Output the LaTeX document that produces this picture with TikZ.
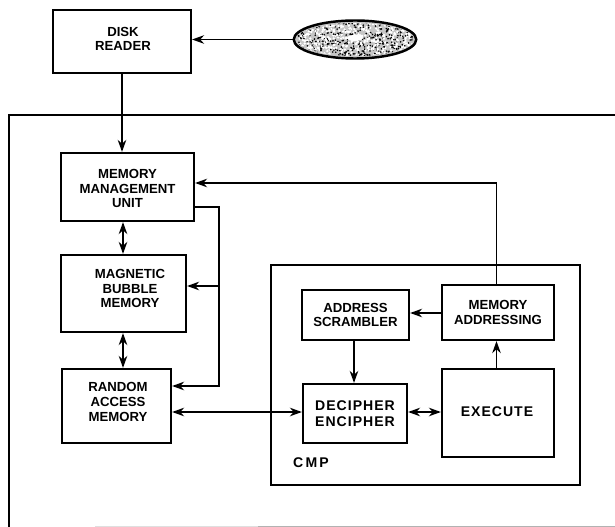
\documentclass[tikz,border=0pt]{standalone}
\usepackage{fontspec}
\setmainfont{Liberation Sans}
\newfontfamily\widefont[LetterSpace=7]{Liberation Sans}
\newfontfamily\cmpfont[LetterSpace=16]{Liberation Sans}
\usetikzlibrary{arrows.meta, shapes.geometric}
\begin{document}
\begin{tikzpicture}
[x=0.02cm, y=-0.02cm, font=\fontsize{7.5}{8.3}\selectfont\bfseries, line width=1.05pt, >={Stealth[length=2.4mm,width=1.7mm]}]
\tikzstyle{block}=[rectangle, draw, line width=1.25pt, fill=white, align=center, inner sep=0mm]
\tikzstyle{wide}=[font=\widefont\fontsize{8}{9.4}\selectfont\bfseries]
\tikzstyle{blocktext}=[align=center, inner sep=0mm]
\useasboundingbox (0,0) rectangle (615,527);

% outer frame
\draw (9,527)--(9,115)--(615,115);
\draw [gray!25, line width=0.5pt] (95,526.5)--(258,526.5);
\draw [gray!60, line width=0.6pt] (258,526.5)--(615,526.5);

% disk
\node[ellipse, draw, line width=1.4pt, minimum width=2.45cm, minimum height=0.76cm, inner sep=0mm, fill=gray!45] (disk) at (355,39.5) {};
\begin{scope}
\clip (355,39.5) ellipse [x radius=59, y radius=16.5];
\pgfmathsetseed{7}
\foreach \i in {1,...,420} {
	\pgfmathsetmacro{\px}{355+59*rand}
	\pgfmathsetmacro{\py}{39.5+17*rand}
	\fill [black] (\px,\py) circle [radius=0.9];
	\pgfmathsetmacro{\qx}{355+59*rand}
	\pgfmathsetmacro{\qy}{39.5+17*rand}
	\fill [white] (\qx,\qy) circle [radius=1.3];
}
\fill [white] (355,38) ellipse [x radius=8, y radius=3];
\end{scope}

% blocks
\node[block, minimum width=2.76cm, minimum height=1.26cm]	(DR)	at (122,41.5)	{};
\node[blocktext]	(DRtext)	at (123,39)	{DISK\\READER};
\node[block, minimum width=2.66cm, minimum height=1.36cm]	(MMU)	at (127.5,187)	{};
\node[blocktext]	(MMUtext)	at (127.5,188.5)	{MEMORY\\MANAGEMENT\\UNIT};
\node[block, minimum width=2.5cm, minimum height=1.54cm]	(MBM)	at (123.5,293.5)	{};
\node[blocktext]	(MBMtext)	at (130,288.5)	{MAGNETIC\\BUBBLE\\MEMORY};
\node[block, minimum width=2.18cm, minimum height=1.48cm]	(RAM)	at (116.5,406)	{};
\node[blocktext]	(RAMtext)	at (118,402)	{RANDOM\\ACCESS\\MEMORY};

% cmp
\node[rectangle, draw, line width=1.25pt, minimum width=6.18cm, minimum height=4.4cm] (CMP) at (425.5,375) {};
\node[inner sep=0mm, font=\cmpfont\fontsize{8}{9.4}\selectfont\bfseries]	(CMPtext)	at (311,463)	{CMP};
\node[block, minimum width=2.14cm, minimum height=1cm]	(AS)	at (355.5,315)	{ADDRESS\\SCRAMBLER};
\node[block, minimum width=2.24cm, minimum height=1.1cm]	(MA)	at (498,312.5)	{MEMORY\\ADDRESSING};
\node[block, wide, minimum width=2.08cm, minimum height=1.18cm]	(DE)	at (355,413.5)	{DECIPHER\\ENCIPHER};
\node[block, wide, minimum width=2.24cm, minimum height=1.76cm]	(EX)	at (498,413)	{};
\node[blocktext, wide]	(EXtext)	at (497,412)	{EXECUTE};

% connectors
\coordinate (MMUout) at (194,207);
\coordinate (bend1) at (219,207);
\coordinate (bend2) at (219,386);
\coordinate (tee) at (219,286);
\coordinate (bend3) at (496.5,183);

\draw [->] (disk.west)--(DR.east |- disk.west);
\draw [->] (DR.south -| 122,0)--(MMU.north -| 122,0);
\draw [->] (MA.north -| bend3)--(bend3)--(MMU.east |- bend3);
\draw (MMUout)--(bend1)--(tee);
\draw [->] (tee)--(bend2)--(RAM.east |- bend2);
\draw [->] (tee)--(MBM.east |- tee);
\draw [<->] (MMU.south -| 123,0)--(MBM.north -| 123,0);
\draw [<->] (MBM.south -| 123,0)--(RAM.north -| 123,0);
\draw [<->] (RAM.east |- 0,412)--(DE.west |- 0,412);
\draw [->] (AS.south -| 354,0)--(DE.north -| 354,0);
\draw [<->] (DE.east |- 0,412)--(EX.west |- 0,412);
\draw [->] (EX.north -| 496.5,0)--(MA.south -| 496.5,0);
\draw [->] (MA.west |- 0,313)--(AS.east |- 0,313);
\end{tikzpicture}
\end{document}
